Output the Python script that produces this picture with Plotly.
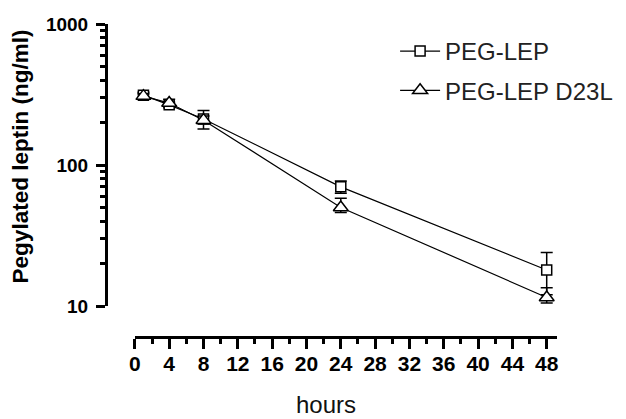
import plotly.graph_objects as go

hours = [1, 4, 8, 24, 48]
peg_lep = [313, 267, 212, 70, 18]
peg_lep_err = [15, 12, 32, 7, 6]
peg_lep_d23l = [308, 275, 208, 50, 11.5]
peg_lep_d23l_err_plus = [12, 18, 15, 8, 2]
peg_lep_d23l_err_minus = [10, 10, 12, 4, 1]

x_ticks = list(range(0, 49, 4))
x_minor = list(range(2, 49, 4))
y_ticks = [10, 100, 1000]
y_minor = [m * d for d in (10, 100) for m in range(2, 10)]

FONT = "Liberation Sans, Arial, sans-serif"

fig = go.Figure()
fig.add_trace(go.Scatter(
    x=hours, y=peg_lep, name="PEG-LEP", mode="lines+markers", legendgroup="a",
    line=dict(color="black", width=1.2),
    marker=dict(symbol="square", size=10, color="white", line=dict(color="black", width=1.5)),
    error_y=dict(type="data", array=peg_lep_err, visible=True, color="black", thickness=1.5, width=6),
))
fig.add_trace(go.Scatter(
    x=hours, y=peg_lep_d23l, name="PEG-LEP D23L", mode="lines+markers", legendgroup="b",
    line=dict(color="black", width=1.2),
    marker=dict(symbol="triangle-up", size=13, color="white", line=dict(color="black", width=1.5)),
    error_y=dict(type="data", symmetric=False, array=peg_lep_d23l_err_plus,
                 arrayminus=peg_lep_d23l_err_minus, visible=True, color="black",
                 thickness=1.5, width=6),
))

fig.update_layout(
    width=618, height=411,
    margin=dict(l=98, r=69, t=16, b=82, autoexpand=False),
    paper_bgcolor="white", plot_bgcolor="white",
    font=dict(family=FONT, color="black"),
    showlegend=True,
    legend=dict(x=0.641, y=0.984, xanchor="left", yanchor="top",
                bgcolor="rgba(0,0,0,0)", font=dict(size=24, color="#222"),
                tracegroupgap=5, itemwidth=40),
    xaxis=dict(
        range=[0, 49.2], domain=[0.064, 1], anchor="free", position=0,
        showline=True, linecolor="black", linewidth=3, showgrid=False, zeroline=False,
        tickmode="array", tickvals=x_ticks, ticks="outside", ticklen=10, tickwidth=2.5,
        tickcolor="black", ticklabelstandoff=-3,
        tickfont=dict(size=21, weight="bold", family=FONT),
        minor=dict(tickmode="array", tickvals=x_minor, ticks="outside", ticklen=5,
                   tickwidth=2.5, tickcolor="black", showgrid=False),
    ),
    yaxis=dict(
        type="log", range=[1, 3], domain=[0.099, 1], anchor="free", position=0,
        showline=True, linecolor="black", linewidth=3, showgrid=False, zeroline=False,
        tickmode="array", tickvals=y_ticks, ticktext=["10", "100", "1000"],
        ticks="outside", ticklen=9, tickwidth=2.5, tickcolor="black", ticklabelstandoff=4,
        tickfont=dict(size=19, weight="bold", family=FONT),
        minor=dict(tickmode="array", tickvals=y_minor, ticks="outside", ticklen=5,
                   tickwidth=2.5, tickcolor="black", showgrid=False),
    ),
    annotations=[
        dict(text="Pegylated leptin (ng/ml)", xref="paper", yref="paper",
             x=-0.19, y=0.578, xanchor="center", yanchor="middle", textangle=-90,
             showarrow=False, font=dict(size=22.5, weight="bold", family=FONT, color="black")),
        dict(text="hours", xref="paper", yref="paper",
             x=0.488, y=-0.215, xanchor="center", yanchor="middle",
             showarrow=False, font=dict(size=24, family=FONT, color="#111")),
    ],
)

fig.write_html("out.html")
